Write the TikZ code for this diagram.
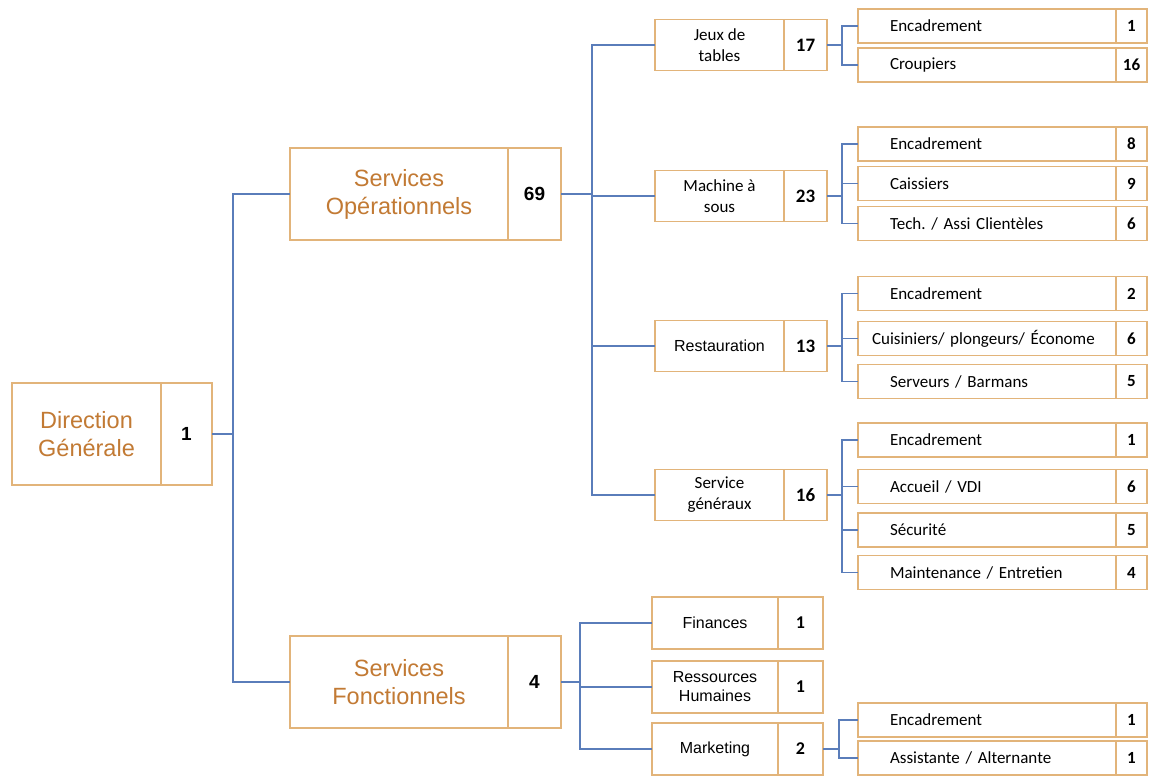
\documentclass[tikz,border=0pt]{standalone}
\usepackage{fontspec}
\setmainfont{Carlito}
\newfontfamily\robo{Liberation Sans}
\usetikzlibrary{positioning}
\frenchspacing

\definecolor{orgtext}{HTML}{C27A34}
\definecolor{orgline}{HTML}{E2B47A}
\definecolor{linkblue}{HTML}{5A7DBA}

\tikzset{
  box/.style={draw=orgline, line width=1.3pt, fill=white, inner sep=2pt, outer sep=0pt, align=center},
  big/.style={box, text=orgtext, minimum width=218pt, minimum height=92pt, font=\robo\fontsize{23.5}{28}\selectfont},
  bignum/.style={box, minimum width=53pt, minimum height=92pt, font=\robo\bfseries\fontsize{19}{22}\selectfont},
  mid/.style={box, minimum width=129pt, minimum height=51pt, font=\fontsize{17}{21}\selectfont},
  midnum/.style={box, minimum width=43pt, minimum height=51pt, font=\bfseries\fontsize{19}{22}\selectfont},
  fct/.style={box, minimum width=126pt, minimum height=52pt, font=\robo\fontsize{16}{19}\selectfont},
  fctnum/.style={box, minimum width=45pt, minimum height=52pt, font=\bfseries\fontsize{18}{22}\selectfont},
  leaf/.style={box, inner xsep=32pt, text width=194pt, align=left, minimum height=34pt, font=\fontsize{17}{20}\selectfont},
  leafnum/.style={box, minimum width=31pt, minimum height=34pt, font=\bfseries\fontsize{17}{20}\selectfont},
  link/.style={draw=linkblue, line width=1.2pt},
}

\begin{document}
\begin{tikzpicture}[x=1pt, y=-1pt]

  \useasboundingbox (0,0) rectangle (1155,780);

  % Direction and services
  \node[big, minimum width=149pt, minimum height=102pt] (dir) at (86.5,434) {Direction\\Générale};
  \node[bignum, minimum width=51pt, minimum height=102pt, right=0pt of dir] (dirN) {1};

  \node[big] (op) at (399,194) {Services\\Opérationnels};
  \node[bignum, right=0pt of op] (opN) {69};

  \node[big] (fonc) at (399,682) {Services\\Fonctionnels};
  \node[bignum, right=0pt of fonc] (foncN) {4};

  % Operational departments
  \node[mid] (jeux) at (719.5,45) {Jeux de\\tables};
  \node[midnum, right=0pt of jeux] (jeuxN) {17};

  \node[mid] (mach) at (719.5,196) {Machine à\\sous};
  \node[midnum, right=0pt of mach] (machN) {23};

  \node[mid, font=\robo\fontsize{16}{19}\selectfont] (resto) at (719.5,346) {Restauration};
  \node[midnum, right=0pt of resto] (restoN) {13};

  \node[mid] (gen) at (719.5,495) {Service\\généraux};
  \node[midnum, right=0pt of gen] (genN) {16};

  % Functional departments
  \node[fct] (fin) at (715,623) {Finances};
  \node[fctnum, right=0pt of fin] (finN) {1};

  \node[fct] (rh) at (715,687) {Ressources\\Humaines};
  \node[fctnum, right=0pt of rh] (rhN) {1};

  \node[fct] (mkt) at (715,749) {Marketing};
  \node[fctnum, right=0pt of mkt] (mktN) {2};

  % Teams
  \node[leaf] (jeux1) at (987,26) {Encadrement};
  \node[leafnum, right=0pt of jeux1] (jeux1N) {1};
  \node[leaf] (jeux2) at (987,65) {Croupiers};
  \node[leafnum, right=0pt of jeux2] (jeux2N) {16};

  \node[leaf] (mach1) at (987,144) {Encadrement};
  \node[leafnum, right=0pt of mach1] (mach1N) {8};
  \node[leaf] (mach2) at (987,183.5) {Caissiers};
  \node[leafnum, right=0pt of mach2] (mach2N) {9};
  \node[leaf] (mach3) at (987,223.5) {Tech. / Assi Clientèles};
  \node[leafnum, right=0pt of mach3] (mach3N) {6};

  \node[leaf] (resto1) at (987,293.5) {Encadrement};
  \node[leafnum, right=0pt of resto1] (resto1N) {2};
  \node[leaf, inner xsep=14pt, text width=230pt] (resto2) at (987,338.5) {Cuisiniers/ plongeurs/ Économe};
  \node[leafnum, right=0pt of resto2] (resto2N) {6};
  \node[leaf] (resto3) at (987,381.5) {Serveurs / Barmans};
  \node[leafnum, right=0pt of resto3] (resto3N) {5};

  \node[leaf] (gen1) at (987,440) {Encadrement};
  \node[leafnum, right=0pt of gen1] (gen1N) {1};
  \node[leaf] (gen2) at (987,486.5) {Accueil / VDI};
  \node[leafnum, right=0pt of gen2] (gen2N) {6};
  \node[leaf] (gen3) at (987,530) {Sécurité};
  \node[leafnum, right=0pt of gen3] (gen3N) {5};
  \node[leaf] (gen4) at (987,572.5) {Maintenance / Entretien};
  \node[leafnum, right=0pt of gen4] (gen4N) {4};

  \node[leaf] (mkt1) at (987,720) {Encadrement};
  \node[leafnum, right=0pt of mkt1] (mkt1N) {1};
  \node[leaf] (mkt2) at (987,758) {Assistante / Alternante};
  \node[leafnum, right=0pt of mkt2] (mkt2N) {1};

  % Links
  \draw[link] (dirN.east) -- ++(21,0) coordinate (dirB);
  \draw[link] (dirB) |- (op.west);
  \draw[link] (dirB) |- (fonc.west);

  \draw[link] (opN.east) -- ++(31,0) coordinate (opB);
  \draw[link] (opB) |- (jeux.west);
  \draw[link] (opB) |- (mach.west);
  \draw[link] (opB) |- (resto.west);
  \draw[link] (opB) |- (gen.west);

  \draw[link] (foncN.east) -- ++(19,0) coordinate (foncB);
  \draw[link] (foncB) |- (fin.west);
  \draw[link] (foncB) |- (rh.west);
  \draw[link] (foncB) |- (mkt.west);

  \draw[link] (jeuxN.east) -- ++(15,0) coordinate (jeuxB);
  \draw[link] (jeuxB) |- (jeux1.west);
  \draw[link] (jeuxB) |- (jeux2.west);

  \draw[link] (machN.east) -- ++(15,0) coordinate (machB);
  \draw[link] (machB) |- (mach1.west);
  \draw[link] (machB) |- (mach2.west);
  \draw[link] (machB) |- (mach3.west);

  \draw[link] (restoN.east) -- ++(15,0) coordinate (restoB);
  \draw[link] (restoB) |- (resto1.west);
  \draw[link] (restoB) |- (resto2.west);
  \draw[link] (restoB) |- (resto3.west);

  \draw[link] (genN.east) -- ++(15,0) coordinate (genB);
  \draw[link] (genB) |- (gen1.west);
  \draw[link] (genB) |- (gen2.west);
  \draw[link] (genB) |- (gen3.west);
  \draw[link] (genB) |- (gen4.west);

  \draw[link] (mktN.east) -- ++(16,0) coordinate (mktB);
  \draw[link] (mktB) |- (mkt1.west);
  \draw[link] (mktB) |- (mkt2.west);

\end{tikzpicture}
\end{document}
